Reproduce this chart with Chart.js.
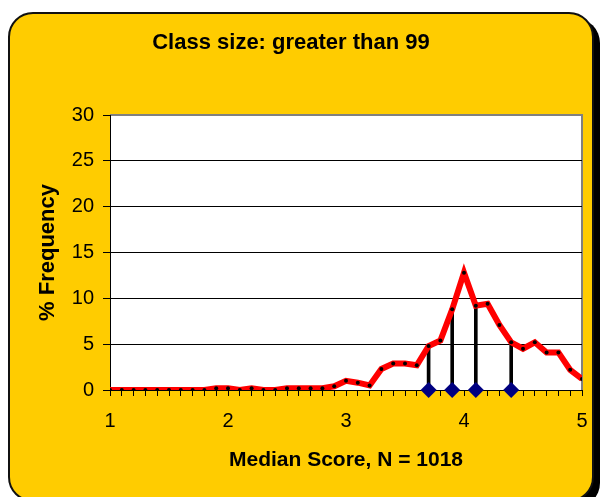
<!DOCTYPE html>
<html>
<head>
<meta charset="utf-8">
<script src="https://cdn.jsdelivr.net/npm/chart.js@4.4.1/dist/chart.umd.min.js"></script>
<style>
  body { margin: 0; background: #fff; overflow: hidden; }
  #frame {
    position: absolute; left: 8px; top: 12px;
    width: 582px; height: 486px;
    background: #FFCC00;
    border: 2px solid #111;
    border-radius: 25px;
    box-shadow: 6px 6px 0 #000;
  }
  #wrap { position: absolute; left: 0; top: 0; width: 607px; height: 497px; }
</style>
</head>
<body>
<div id="frame"></div>
<div id="wrap"><canvas id="chart" width="607" height="497"></canvas></div>
<script>
// median score bins (0.1 steps) and % frequency
const scores = [1.0, 1.1, 1.2, 1.3, 1.4, 1.5, 1.6, 1.7, 1.8, 1.9,
                2.0, 2.1, 2.2, 2.3, 2.4, 2.5, 2.6, 2.7, 2.8, 2.9,
                3.0, 3.1, 3.2, 3.3, 3.4, 3.5, 3.6, 3.7, 3.8, 3.9,
                4.0, 4.1, 4.2, 4.3, 4.4, 4.5, 4.6, 4.7, 4.8, 4.9, 5.0];
const freq = [0, 0, 0, 0, 0, 0, 0, 0, 0, 0.2,
              0.2, 0, 0.2, 0, 0, 0.2, 0.2, 0.2, 0.2, 0.4,
              1.0, 0.8, 0.5, 2.3, 2.9, 2.9, 2.7, 4.8, 5.4, 8.8,
              12.8, 9.2, 9.4, 7.1, 5.2, 4.5, 5.2, 4.1, 4.1, 2.2, 1.2];

// marker positions (diamonds on the axis) and their drop-line heights
const markScores = [3.7, 3.9, 4.1, 4.4];
const markHeights = [4.8, 8.8, 9.2, 5.2];

const yTicks = [0, 5, 10, 15, 20, 25, 30];

const FONT = "'Liberation Sans', Arial, sans-serif";

// white plot area with grey top/right border
const plotBg = {
  id: 'plotBg',
  beforeDraw(chart) {
    const a = chart.chartArea, ctx = chart.ctx;
    ctx.save();
    ctx.fillStyle = '#fff';
    ctx.fillRect(a.left, a.top, a.right - a.left, a.bottom - a.top);
    ctx.strokeStyle = '#808080';
    ctx.lineWidth = 2;
    ctx.beginPath();
    ctx.moveTo(a.left, a.top);
    ctx.lineTo(a.right, a.top);
    ctx.lineTo(a.right, a.bottom);
    ctx.stroke();
    ctx.restore();
  }
};

const ctx = document.getElementById('chart').getContext('2d');
new Chart(ctx, {
  type: 'line',
  data: {
    datasets: [
      {
        type: 'line',
        data: scores.map((s, i) => ({ x: s, y: freq[i] })),
        borderColor: '#FF0000',
        borderWidth: 6,
        tension: 0,
        pointRadius: 2,
        pointBackgroundColor: '#000',
        pointBorderWidth: 0,
        order: 1
      },
      {
        type: 'bar',
        data: markScores.map((s, i) => ({ x: s, y: markHeights[i] })),
        backgroundColor: '#000',
        barThickness: 3,
        order: 2
      },
      {
        type: 'scatter',
        data: markScores.map(s => ({ x: s, y: 0 })),
        pointStyle: 'rectRot',
        pointRadius: 8,
        borderWidth: 0,
        backgroundColor: '#000080',
        borderColor: '#000080',
        clip: false,
        order: 0
      }
    ]
  },
  options: {
    responsive: false,
    animation: false,
    layout: { padding: { left: 0, right: 25, top: 0, bottom: 0 } },
    plugins: {
      legend: { display: false },
      tooltip: { enabled: false },
      title: {
        display: true,
        text: 'Class size: greater than 99',
        color: '#000',
        font: { family: FONT, size: 22, weight: 'bold' },
        padding: { top: 30, bottom: 58.6 }
      }
    },
    scales: {
      x: {
        type: 'linear',
        min: 1, max: 5,
        offset: false,
        afterFit: s => { s.height = 107; },
        grid: { drawOnChartArea: false, offset: false, color: '#000', tickLength: 6 },
        border: { color: '#000', width: 1 },
        ticks: {
          stepSize: 0.1,
          autoSkip: false,
          maxRotation: 0,
          padding: 13,
          color: '#000',
          font: { family: FONT, size: 20 },
          callback: v => Math.abs(v - Math.round(v)) < 1e-6 ? String(Math.round(v)) : ''
        },
        title: {
          display: true,
          text: 'Median Score, N = 1018',
          color: '#000',
          font: { family: FONT, size: 21, weight: 'bold' },
          padding: { top: 0, bottom: 24 }
        }
      },
      y: {
        min: yTicks[0], max: yTicks[yTicks.length - 1],
        afterFit: s => { s.width = 110; },
        afterBuildTicks: s => { s.ticks = yTicks.map(v => ({ value: v })); },
        grid: {
          color: c => c.tick.value === 30 ? 'rgba(0,0,0,0)' : '#000',
          tickColor: '#000',
          tickLength: 7
        },
        border: { color: '#000', width: 1 },
        ticks: {
          padding: 9,
          color: '#000',
          font: { family: FONT, size: 20 }
        },
        title: {
          display: true,
          text: '% Frequency',
          color: '#000',
          font: { family: FONT, size: 22, weight: 'bold' },
          padding: { top: 35, bottom: 0 }
        }
      }
    }
  },
  plugins: [plotBg]
});
</script>
</body>
</html>
